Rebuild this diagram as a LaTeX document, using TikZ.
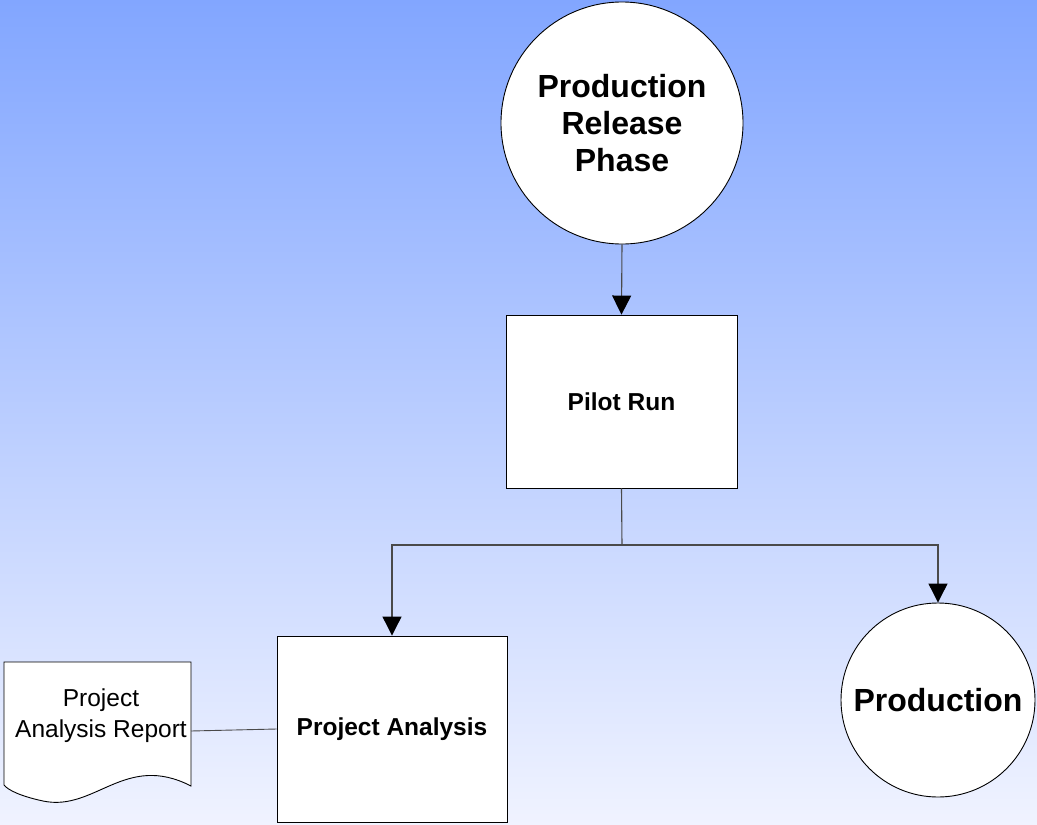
\documentclass[tikz,border=0pt]{standalone}
\usepackage{fontspec}
\setmainfont{Liberation Sans}
\usetikzlibrary{arrows.meta}
\definecolor{skytop}{HTML}{82A6FF}
\definecolor{skybottom}{HTML}{F0F3FF}
\definecolor{wire}{HTML}{4A4A4A}
\tikzset{
  bigtext/.style={font=\fontsize{32}{37}\selectfont\bfseries, align=center},
  smalltext/.style={font=\fontsize{24.5}{29}\selectfont\bfseries, align=center},
  phase/.style={circle, draw=black, line width=0.9pt, fill=white, inner sep=0pt},
  task/.style={rectangle, draw=black, line width=0.9pt, fill=white, inner sep=0pt},
  link/.style={draw=wire, line width=1.1pt},
  flow/.style={link, -{Triangle[width=19pt,length=19pt,color=black,fill=black]}},
}
\begin{document}
\begin{tikzpicture}[x=1pt, y=-1pt]
  % background with vertical gradient
  \shade[top color=skytop, bottom color=skybottom] (0,0) rectangle (1037,825);
  \useasboundingbox (0,0) rectangle (1037,825);

  % nodes
  \node[phase, minimum size=242pt, bigtext] (release) at (622,123)
    {Production\\Release\\Phase};
  \node[task, minimum width=231pt, minimum height=173pt, smalltext] (pilot) at (621.5,401.5)
    {Pilot Run};
  \node[task, minimum width=230pt, minimum height=186pt, smalltext] (analysis) at (392,729)
    {Project Analysis};
  \node[phase, minimum size=194pt, bigtext] (production) at (938,700)
    {Production};

  % document shape with wavy bottom edge
  \draw[fill=white, draw=black, line width=0.9pt]
    (4,662) -- (191,662) -- (191,786)
    .. controls (125,752) and (95,812) .. (43,801)
    .. controls (20,796) and (8,790) .. (4,785) -- cycle;
  \node[font=\fontsize{24.5}{31}\selectfont, align=center] (report) at (101,716)
    {Project\\Analysis Report};
  \coordinate (reportport) at (191,731);

  % connectors
  \coordinate (split) at (622,545);
  \draw[flow] (release.south) -- (pilot.north);
  \draw[link] (pilot.south) -- (split);
  \draw[flow] (split) -| (analysis.north);
  \draw[flow] (split) -| (production.north);
  \draw[link, line width=0.9pt] (reportport) -- (analysis.west);
\end{tikzpicture}
\end{document}
